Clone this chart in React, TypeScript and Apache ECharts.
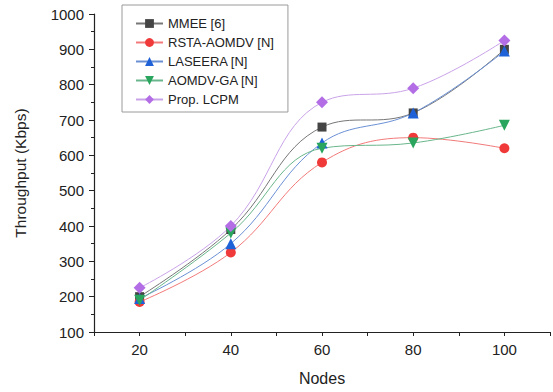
import React, { useEffect, useRef } from "react";
import * as echarts from "echarts";

const nodes = [20, 40, 60, 80, 100];
const mmee = [200, 390, 680, 720, 900];
const rsta = [185, 325, 580, 650, 620];
const laseera = [195, 350, 635, 720, 895];
const aomdvGa = [190, 380, 620, 635, 685];
const lcpm = [225, 400, 750, 790, 925];

const seriesDefs = [
  { name: "MMEE [6]", data: mmee, color: "#454545", line: "#777777", symbol: "rect", size: 9 },
  { name: "RSTA-AOMDV [N]", data: rsta, color: "#f03a3a", line: "#f27a7a", symbol: "circle", size: 10 },
  { name: "LASEERA [N]", data: laseera, color: "#1f62d8", line: "#6a90d4", symbol: "triangle", size: 11 },
  { name: "AOMDV-GA [N]", data: aomdvGa, color: "#2aa55e", line: "#6ab68c", symbol: "path://M0,0 L10,0 L5,9 Z", size: 11 },
  { name: "Prop. LCPM", data: lcpm, color: "#b36ee6", line: "#c9a3e8", symbol: "diamond", size: 12 },
];

export default function App() {
  const ref = useRef<HTMLDivElement>(null);
  useEffect(() => {
    if (!ref.current) return;
    const chart = echarts.init(ref.current, null, { renderer: "svg" });
    const font = "'Liberation Sans', Arial, sans-serif";
    chart.setOption({
      animation: false,
      backgroundColor: "#ffffff",
      textStyle: { fontFamily: font },
      grid: { left: 94, top: 14, right: -1, bottom: 60 },
      legend: {
        orient: "vertical",
        left: 122,
        top: 5,
        width: 165,
        borderColor: "#9a9a9a",
        borderWidth: 1,
        padding: [12, 14, 6, 13],
        itemGap: 6,
        itemWidth: 27,
        itemHeight: 11,
        textStyle: { fontSize: 13, color: "#222", fontFamily: font },
        data: seriesDefs.map((s) => s.name),
      },
      xAxis: {
        type: "value",
        min: 10,
        max: 110,
        interval: 10,
        name: "Nodes",
        nameLocation: "middle",
        nameGap: 38,
        nameTextStyle: { fontSize: 16, color: "#222", fontFamily: font },
        axisLine: { onZero: false, lineStyle: { color: "#222", width: 1.2 } },
        axisTick: { inside: false, length: 4, lineStyle: { color: "#222" } },
        axisLabel: {
          fontSize: 15,
          color: "#222",
          margin: 10,
          formatter: (v: number) => (v % 20 === 0 && v >= 20 && v <= 100 ? String(v) : ""),
        },
        splitLine: { show: false },
      },
      yAxis: {
        type: "value",
        min: 100,
        max: 1000,
        interval: 100,
        name: "Throughput (Kbps)",
        nameLocation: "middle",
        nameGap: 66,
        nameRotate: 90,
        nameTextStyle: { fontSize: 15.5, color: "#222", fontFamily: font },
        axisLine: { show: true, onZero: false, lineStyle: { color: "#222", width: 1.2 } },
        axisTick: { show: true, inside: false, length: 5, lineStyle: { color: "#222" } },
        minorTick: { show: true, splitNumber: 2, length: 3, lineStyle: { color: "#222" } },
        axisLabel: { fontSize: 15, color: "#222", margin: 10, formatter: (v: number) => String(v) },
        splitLine: { show: false },
      },
      series: seriesDefs.map((s) => ({
        name: s.name,
        type: "line",
        smooth: 0.4,
        data: nodes.map((n, i) => [n, s.data[i]]),
        symbol: s.symbol,
        symbolSize: s.size,
        itemStyle: { color: s.color },
        lineStyle: { color: s.line, width: 1 },
      })),
    });
    return () => chart.dispose();
  }, []);
  return <div ref={ref} style={{ width: 553, height: 392, position: "absolute", left: 0, top: 0 }} />;
}
